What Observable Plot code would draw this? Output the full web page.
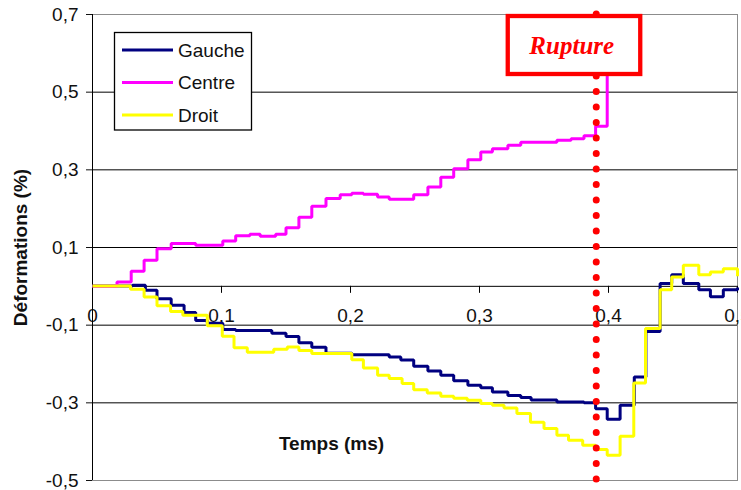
<!DOCTYPE html>
<html><head><meta charset="utf-8">
<script src="https://cdn.jsdelivr.net/npm/d3@7"></script>
<script src="https://cdn.jsdelivr.net/npm/@observablehq/plot@0.6"></script>
<style>body{margin:0;background:#fff}</style>
</head><body><div id="chart"></div>
<script>
const seriesNames = ["Gauche", "Centre", "Droit"];
// [temps (ms), déformation (%)]
const gauche = [
  [0,0.001],[0.031,0.003],[0.041,-0.010],[0.050,-0.032],[0.061,-0.049],[0.071,-0.0675],
  [0.080,-0.088],[0.089,-0.095],[0.101,-0.111],[0.111,-0.114],[0.139,-0.1205],[0.150,-0.1295],
  [0.160,-0.145],[0.170,-0.157],[0.181,-0.172],[0.201,-0.176],[0.230,-0.182],[0.239,-0.190],
  [0.249,-0.206],[0.260,-0.218],[0.270,-0.229],[0.280,-0.243],[0.291,-0.255],[0.301,-0.261],
  [0.310,-0.272],[0.322,-0.281],[0.332,-0.2865],[0.340,-0.293],[0.360,-0.298],[0.381,-0.300],
  [0.390,-0.315],[0.399,-0.342],[0.409,-0.306],[0.420,-0.2335],[0.429,-0.116],[0.440,0.007],
  [0.449,0.030],[0.458,0.007],[0.470,-0.009],[0.479,-0.027],[0.489,-0.009],[0.500,-0.003]
];
const centre = [
  [0,0],[0.019,0.011],[0.030,0.039],[0.040,0.067],[0.050,0.097],[0.061,0.110],[0.080,0.106],
  [0.101,0.117],[0.111,0.130],[0.122,0.134],[0.130,0.129],[0.142,0.134],[0.150,0.151],
  [0.160,0.178],[0.170,0.206],[0.181,0.226],[0.192,0.236],[0.201,0.240],[0.210,0.237],
  [0.221,0.230],[0.230,0.224],[0.249,0.236],[0.260,0.256],[0.270,0.281],[0.280,0.303],
  [0.291,0.326],[0.301,0.346],[0.310,0.354],[0.322,0.363],[0.332,0.371],[0.360,0.376],
  [0.371,0.380],[0.381,0.388],[0.390,0.412],[0.399,0.600]
];
const droit = [
  [0,0.001],[0.0295,-0.0077],[0.040,-0.0275],[0.050,-0.050],[0.0605,-0.065],[0.070,-0.0746],
  [0.089,-0.1017],[0.1006,-0.1287],[0.1097,-0.158],[0.120,-0.170],[0.1405,-0.162],[0.151,-0.156],
  [0.160,-0.165],[0.170,-0.173],[0.201,-0.189],[0.210,-0.210],[0.221,-0.229],[0.230,-0.2376],
  [0.240,-0.2504],[0.249,-0.266],[0.2595,-0.2746],[0.270,-0.283],[0.280,-0.288],[0.2905,-0.2934],
  [0.301,-0.302],[0.310,-0.306],[0.319,-0.313],[0.329,-0.3277],[0.3395,-0.350],[0.350,-0.3663],
  [0.360,-0.3835],[0.369,-0.3964],[0.380,-0.409],[0.390,-0.4203],[0.399,-0.435],[0.409,-0.386],
  [0.4196,-0.249],[0.4287,-0.1089],[0.440,-0.009],[0.449,0.024],[0.458,0.054],[0.470,0.030],
  [0.479,0.0368],[0.489,0.0456],[0.500,0.026]
];
const xTicks = [0, 0.1, 0.2, 0.3, 0.4, 0.5];
const yTicks = [-0.5, -0.3, -0.1, 0.1, 0.3, 0.5, 0.7];
const ruptureTime = [0.3905];
const ruptureLabel = "Rupture";
const xLabel = "Temps (ms)";
const yLabel = "Déformations (%)";

const colors = ["#000080", "#ff00ff", "#ffff00"];
const comma = d => d3.format(".1f")(d).replace(".", ",").replace("\u2212", "-");
const fmtX = d => d === 0 ? "0" : comma(d);

const seriesData = [gauche, centre, droit];
const rows = seriesNames.flatMap((name, i) => seriesData[i].map(([t, v]) => ({series: name, t, v})));

const W = 741, H = 490;
const plot = Plot.plot({
  width: W, height: H,
  marginLeft: 92, marginTop: 14, marginRight: 4, marginBottom: 10,
  style: {fontFamily: "'Liberation Sans', Arial, sans-serif", fontSize: "19px", color: "#111", background: "#fff"},
  x: {domain: [0, 0.5], axis: null},
  y: {domain: [-0.5, 0.7]},
  color: {domain: seriesNames, range: colors},
  marks: [
    Plot.ruleY(yTicks.filter(d => d > -0.5 && d < 0.7), {stroke: "#000", strokeWidth: 1}),
    Plot.frame({stroke: "#8c8c8c"}),
    Plot.ruleY([0], {stroke: "#000"}),
    Plot.ruleX(xTicks.filter(d => d > 0), {x: d => d, y1: 0, y2: 0, insetBottom: -7, stroke: "#000"}),
    Plot.text(xTicks, {x: d => d, y: 0, text: fmtX, dy: 30, fill: "#111"}),
    Plot.axisY({ticks: yTicks, tickFormat: comma, tickSize: 6, tickPadding: 8, label: null}),
    Plot.ruleX([0], {stroke: "#000"}),
    Plot.line(rows, {x: "t", y: "v", z: "series", stroke: "series", curve: "step-after", strokeWidth: 3, strokeLinejoin: "miter", strokeLinecap: "butt"}),
    Plot.ruleX(ruptureTime, {stroke: "#ff0000", strokeWidth: 7, strokeDasharray: "0,15.5", strokeLinecap: "round"}),
    Plot.text([yLabel], {text: d => d, frameAnchor: "left", dx: -72, rotate: -90, fontWeight: "bold", textAnchor: "middle", lineAnchor: "middle", fill: "#111"}),
    Plot.text([xLabel], {text: d => d, frameAnchor: "bottom-left", dx: 239, dy: -37, fontWeight: "bold", textAnchor: "middle", lineAnchor: "middle", fill: "#111"})
  ]
});
document.getElementById("chart").appendChild(plot);

// Legend
const svg = d3.select(plot);
const lg = svg.append("g");
lg.append("rect").attr("x", 114.5).attr("y", 32.5).attr("width", 137).attr("height", 97.5)
  .attr("fill", "#fff").attr("stroke", "#000").attr("stroke-width", 1.3);
seriesNames.forEach((name, i) => {
  const y = 50 + i * 32.5;
  lg.append("line").attr("x1", 122).attr("x2", 173).attr("y1", y).attr("y2", y)
    .attr("stroke", colors[i]).attr("stroke-width", 3);
  lg.append("text").attr("x", 178).attr("y", y).attr("dy", "0.35em").attr("text-anchor", "start")
    .attr("fill", "#111").attr("font-size", 19).text(name);
});

// Rupture annotation
const cx = plot.scale("x").apply(ruptureTime[0]);
const ann = svg.append("g");
ann.append("rect").attr("x", cx - 88).attr("y", 16).attr("width", 132.5).attr("height", 58)
  .attr("fill", "#fff").attr("stroke", "#ff0000").attr("stroke-width", 4.3);
ann.append("text").attr("x", cx - 24).attr("y", 46).attr("dy", "0.32em").attr("text-anchor", "middle")
  .attr("font-family", "'Liberation Serif', 'Times New Roman', serif").attr("font-style", "italic")
  .attr("font-weight", "bold").attr("font-size", 25).attr("fill", "#ff0000").text(ruptureLabel);
</script>
</body></html>
